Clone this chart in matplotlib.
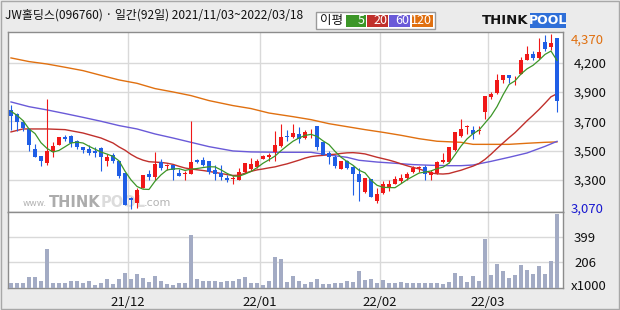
import matplotlib
matplotlib.use('agg')
import matplotlib.pyplot as plt
from matplotlib.patches import Rectangle
import numpy as np
import pandas as pd

# 일봉 데이터 (2021/11/03 ~ 2022/03/18, 92 거래일)
holidays = ['2021-12-31', '2022-01-31', '2022-02-01', '2022-02-02', '2022-03-01', '2022-03-09']

open_ = [3810, 3775, 3720, 3665, 3520, 3465, 3415, 3495, 3545, 3610,
         3615, 3575, 3530, 3520, 3500, 3525, 3425, 3475, 3430, 3340,
         3155, 3115, 3230, 3330, 3310, 3420, 3390, 3400, 3340, 3335,
         3330, 3435, 3435, 3425, 3360, 3340, 3300, 3295, 3290, 3345,
         3370, 3385, 3445, 3460, 3495, 3540, 3615, 3605, 3630, 3600,
         3640, 3690, 3570, 3490, 3460, 3370, 3430, 3385, 3335, 3200,
         3295, 3130, 3195, 3235, 3260, 3280, 3300, 3345, 3375, 3385,
         3325, 3340, 3420, 3420, 3510, 3615, 3680, 3660, 3650, 3795,
         3905, 3930, 4025, 4065, 4040, 4075, 4180, 4220, 4190, 4310,
         4275, 4340]
high = [3845, 3785, 3730, 3675, 3555, 3465, 3890, 3570, 3605, 3620,
        3620, 3585, 3535, 3545, 3535, 3530, 3480, 3485, 3430, 3340,
        3160, 3230, 3325, 3360, 3495, 3440, 3410, 3400, 3370, 3355,
        3725, 3445, 3460, 3430, 3400, 3400, 3325, 3315, 3380, 3415,
        3450, 3445, 3475, 3490, 3650, 3705, 3655, 3705, 3680, 3660,
        3665, 3690, 3570, 3500, 3470, 3430, 3435, 3395, 3375, 3305,
        3295, 3230, 3280, 3285, 3315, 3335, 3345, 3395, 3395, 3400,
        3365, 3425, 3485, 3535, 3645, 3740, 3695, 3690, 3685, 3910,
        3940, 4075, 4065, 4065, 4055, 4200, 4280, 4240, 4340, 4360,
        4370, 4340]
low = [3655, 3650, 3650, 3505, 3455, 3395, 3400, 3460, 3545, 3580,
       3535, 3515, 3490, 3475, 3460, 3355, 3395, 3415, 3305, 3100,
       3070, 3080, 3230, 3285, 3285, 3365, 3365, 3290, 3315, 3285,
       3330, 3415, 3395, 3335, 3285, 3290, 3270, 3260, 3290, 3340,
       3355, 3375, 3440, 3430, 3425, 3535, 3580, 3600, 3560, 3590,
       3600, 3510, 3470, 3410, 3375, 3370, 3370, 3180, 3130, 3190,
       3160, 3115, 3185, 3205, 3255, 3265, 3290, 3340, 3345, 3285,
       3285, 3335, 3415, 3415, 3500, 3605, 3630, 3595, 3630, 3740,
       3890, 3925, 4005, 4005, 3995, 4075, 4175, 4175, 4185, 4240,
       4250, 3795]
close = [3765, 3715, 3675, 3545, 3460, 3425, 3505, 3540, 3605, 3595,
         3565, 3535, 3510, 3485, 3485, 3460, 3460, 3425, 3320, 3100,
         3140, 3215, 3325, 3310, 3405, 3375, 3395, 3365, 3320, 3340,
         3420, 3420, 3400, 3350, 3335, 3310, 3290, 3300, 3345, 3415,
         3405, 3430, 3465, 3475, 3550, 3605, 3610, 3635, 3595, 3645,
         3645, 3535, 3470, 3455, 3395, 3430, 3375, 3330, 3270, 3300,
         3160, 3185, 3255, 3260, 3295, 3305, 3335, 3380, 3380, 3335,
         3345, 3420, 3435, 3530, 3645, 3665, 3685, 3630, 3660, 3910,
         3925, 4030, 4065, 4045, 4045, 4180, 4220, 4195, 4235, 4260,
         4305, 3870]
# 거래량 (천주)
volume = [39, 39, 39, 87, 87, 55, 308, 42, 42, 42,
          55, 55, 42, 55, 24, 42, 71, 31, 71, 118,
          71, 110, 79, 47, 95, 55, 31, 24, 42, 42,
          419, 71, 55, 55, 55, 47, 55, 55, 71, 87,
          39, 39, 24, 55, 245, 229, 47, 95, 55, 31,
          47, 71, 31, 31, 39, 39, 55, 47, 134, 63,
          71, 42, 63, 42, 42, 47, 42, 39, 39, 39,
          39, 39, 31, 47, 118, 95, 47, 95, 55, 387,
          103, 189, 134, 79, 103, 182, 142, 110, 174, 110,
          213, 584]

# 이동평균선: 기간 이전 데이터가 필요한 구간은 그림에서 읽은 값
ma5_head = [3797, 3767, 3728, 3666]
ma20_head_idx = [0, 2, 6, 9, 12, 15, 17, 18]
ma20_head = [3644, 3666, 3666, 3661, 3636, 3599, 3562, 3533]
ma60_idx = [0, 3, 6, 9, 12, 15, 18, 21, 24, 27, 30, 33, 37, 40, 45, 50,
            53, 56, 58, 61, 64, 67, 70, 73, 75, 77, 80, 83, 86, 89, 91]
ma60 = [3866, 3831, 3807, 3780, 3752, 3723, 3691, 3666, 3629, 3599, 3567,
        3535, 3503, 3496, 3493, 3493, 3473, 3456, 3434, 3421, 3412, 3402,
        3397, 3394, 3394, 3399, 3426, 3456, 3488, 3537, 3574]
ma120_idx = [0, 3, 6, 9, 12, 15, 18, 21, 24, 27, 30, 33, 37, 40, 43, 47,
             50, 53, 56, 59, 62, 65, 68, 71, 75, 77, 83, 86, 89, 91]
ma120 = [4192, 4165, 4147, 4123, 4098, 4063, 4029, 4004, 3965, 3940, 3913,
         3876, 3839, 3817, 3784, 3757, 3735, 3705, 3683, 3661, 3641, 3619,
         3594, 3575, 3567, 3552, 3552, 3560, 3567, 3570]

RED = '#f01818'
BLUE = '#1f5ee6'
C5, C20, C60, C120 = '#3c9628', '#c0302c', '#6a5ad8', '#e07010'
GRID = '#d9d9d9'
FRAME = '#8c8c8c'

W, H = 620, 310


def fx(x):
    return x / W


def fy(y):
    return 1 - y / H


fam = ['Noto Sans CJK KR', 'DejaVu Sans']
plt.rcParams['font.family'] = fam

fig = plt.figure(figsize=(6.2, 3.1), dpi=100, facecolor='#ebebeb')
ax = fig.add_axes([fx(8), fy(212), 555 / W, 180 / H])
axv = fig.add_axes([fx(8), fy(288), 555 / W, 76 / H], sharex=ax)

dates = pd.bdate_range('2021-11-03', '2022-03-18')
dates = dates[~dates.isin(pd.to_datetime(holidays))]
x = np.arange(len(close))
o, h, l, c = map(np.array, (open_, high, low, close))
colors = np.where(c >= o, RED, BLUE)

# 캔들
ax.vlines(x, l, h, colors=colors, lw=0.8, zorder=4)
body = np.maximum(np.abs(c - o), 7)
ax.bar(x, body, bottom=np.minimum(o, c), width=0.76, color=colors, lw=0, zorder=5)

# 이동평균
cs = pd.Series(close, dtype=float)
ma5 = cs.rolling(5).mean().to_numpy()
ma5[:4] = ma5_head
ma20c = cs.rolling(20).mean().to_numpy()
ax.plot(ma120_idx, ma120, color=C120, lw=1, zorder=3)
ax.plot(ma60_idx, ma60, color=C60, lw=1, zorder=3)
ax.plot(ma20_head_idx + list(x[19:]), ma20_head + list(ma20c[19:]), color=C20, lw=1, zorder=3)
ax.plot(x, ma5, color=C5, lw=0.9, zorder=6)

# 가격축
ax.set_xlim(-0.5, len(close))
ax.set_ylim(3051, 4384)
yt = 3290 + 216.3 * np.arange(5)
ax.set_yticks(yt)
ax.set_yticklabels([f'{int(round(v, -2)):,}' for v in yt])
ax.yaxis.tick_right()
ax.tick_params(axis='y', length=0, pad=8, labelsize=9.5, colors='#111111')
ax.tick_params(axis='x', length=0, labelbottom=False)
ymax_t = ax.get_yaxis_transform()
ax.text(1 + 8 / 555, max(high), f'{max(high):,}', transform=ymax_t, color='#e07010',
        fontsize=9.5, va='top', ha='left')
ax.text(1 + 8 / 555, min(low), f'{min(low):,}', transform=ymax_t, color='#1a1ad0',
        fontsize=9.5, va='center', ha='left')

# 월 구분선
month_start = [i for i in range(1, len(dates)) if dates[i].month != dates[i - 1].month]
xt = np.array(month_start) - 0.5
for a in (ax, axv):
    a.set_xticks(xt)
    a.grid(True, color=GRID, lw=1, zorder=0)
    a.set_facecolor('white')
    for s in a.spines.values():
        s.set_color(FRAME)
        s.set_linewidth(1)

# 워터마크
wm_y = 0.055
ax.text(0.026, wm_y - 0.005, 'www.', transform=ax.transAxes, fontsize=6.5, color='#b4b4b4',
        family='DejaVu Sans', va='center', zorder=1)
ax.text(0.073, wm_y, 'THINK', transform=ax.transAxes, fontsize=10.5, color='#acacac',
        family='DejaVu Sans', fontweight='bold', va='center', zorder=1)
ax.text(0.167, wm_y, 'POOL', transform=ax.transAxes, fontsize=10.5, color='#dcdcdc',
        family='DejaVu Sans', fontweight='bold', va='center', zorder=1)
ax.text(0.245, wm_y - 0.005, '.com', transform=ax.transAxes, fontsize=8, color='#b4b4b4',
        family='DejaVu Sans', va='center', zorder=1)

# 거래량
axv.bar(x, volume, width=0.78, color='#a3abc4', lw=0, zorder=3)
axv.set_ylim(0, 600)
axv.set_yticks([206, 399])
axv.set_yticklabels(['206', '399'])
axv.yaxis.tick_right()
axv.tick_params(axis='y', length=0, pad=8, labelsize=9.5, colors='#111111')
axv.set_xticklabels(dates[month_start].strftime('%y/%m'))
axv.tick_params(axis='x', length=0, pad=6, labelsize=9.5, colors='#111111')
axv.text(1 + 8 / 555, 14, 'x1000', transform=axv.get_yaxis_transform(), fontsize=9.5,
         va='center', ha='left', color='#111111')

# 제목
fig.text(fx(5), fy(15), 'JW홀딩스(096760) · 일간(92일) 2021/11/03~2022/03/18',
         fontsize=8.6, va='center', ha='left', color='#111111')

# 이평 범례
fig.add_artist(Rectangle((fx(316), fy(29)), 119 / W, 17 / H, transform=fig.transFigure,
                         facecolor='white', edgecolor='#9a9a9a', lw=1))
fig.text(fx(320), fy(20.5), '이평', fontsize=9, va='center', ha='left', color='#111111')
for x0, x1, col, lab in [(346, 366, C5, '5'), (367, 388, C20, '20'),
                         (389, 410, C60, '60'), (412, 433, C120, '120')]:
    fig.add_artist(Rectangle((fx(x0), fy(27)), (x1 - x0) / W, 12 / H,
                             transform=fig.transFigure, facecolor=col, lw=0))
    fig.text(fx(x1 - 1), fy(21), lab, fontsize=9, va='center', ha='right', color='white')

# 로고
fig.text(fx(482), fy(20), 'THINK', fontsize=9.5, family='DejaVu Sans', fontweight='bold',
         color='#141414', va='center', ha='left')
fig.add_artist(Rectangle((fx(530), fy(28)), 36 / W, 15 / H, transform=fig.transFigure,
                         facecolor='#2f6fd8', lw=0))
fig.text(fx(548), fy(20), 'POOL', fontsize=9, family='DejaVu Sans', fontweight='bold',
         color='white', va='center', ha='center')

# 바깥 테두리
fig.add_artist(Rectangle((0.001, 0.002), 0.997, 0.995, transform=fig.transFigure,
                         facecolor='none', edgecolor='#a8a8a8', lw=1))

fig.savefig('out.png', dpi=100, facecolor=fig.get_facecolor())
